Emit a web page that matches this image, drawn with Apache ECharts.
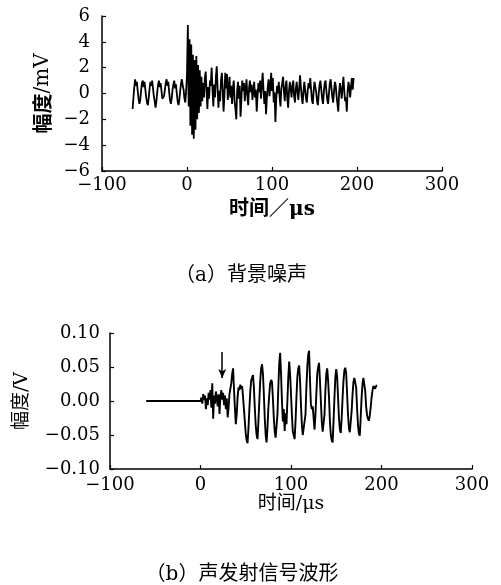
<!DOCTYPE html>
<html>
<head>
<meta charset="utf-8">
<script src="https://cdn.jsdelivr.net/npm/echarts@6/dist/echarts.min.js"></script>
<style>
  html, body { margin: 0; padding: 0; background: #fff; }
  #chart { width: 501px; height: 585px; }
</style>
</head>
<body>
<div id="chart"></div>
<script>
// (a) 背景噪声: amplitude in mV, one sample per microsecond starting at startA
const startA = -64
const stepA = 1
const noiseA = [
  -1.2, -0.3, 0.5, 1.1, 0.6, 0.9, 0.2, -0.4, -0.8, -0.5,
  0.2, 0.8, 1.0, 0.5, 0.9, 0.3, -0.3, -0.7, -0.9, -0.3,
  0.4, 0.9, 0.6, 1.0, 0.4, -0.2, -0.6, -1.1, -0.6, 0.1,
  0.7, 1.0, 0.5, 0.8, 0.2, -0.4, -0.5, -0.2, 0.3, 0.8,
  1.1, 0.6, 0.9, 0.1, -0.5, -0.8, -0.4, 0.3, 0.7, 1.0,
  0.4, 0.7, 0.0, -0.6, -0.9, -0.5, 0.2, 0.8, 1.1, 0.6,
  0.3, -0.4, -0.7, 0.2,
  // burst at t = 0
  1.5, 5.3, -1.0, 4.2, -2.5, 3.8, -3.2, 3.0, -3.5, 2.6,
  -2.8, 2.9, -2.0, 2.2, -1.5, 1.8, -1.0, 1.3, -0.6, 0.8,
  -0.3,
  // t = 21 ..
  1.2, 1.7, 0.2, -1.2, 0.5, -0.4, 1.0, 0.6, 2.0, 0.3,
  -1.0, 0.7, -0.3, 1.3, 2.1, 0.4, -1.1, 0.2, -0.6, 1.0,
  1.6, 0.3, -1.4, -0.2, 1.6, 0.4, 1.5, -0.5, 0.3, 1.3,
  -0.3, 0.6, -0.8, 0.4, 1.0, -0.6, -1.2, -2.0, 0.2, 0.9,
  -0.4, 0.6, -1.8, -0.5, 1.0, 0.2, 0.8, -0.6, 0.3, 1.1,
  -0.2, -0.9, 0.4, 1.0, 0.1, 0.7, -0.5, 0.2, 0.9, -0.3,
  0.3, -1.4, -0.2, 0.8, 0.1, 1.0, -0.4, 0.6, 1.6, 0.3,
  -0.8, 0.2, -1.6, -0.3, 0.5, 1.1, -0.2, 0.5, 1.6, 0.2,
  1.2, -0.7, 0.1, -2.2, -0.4, 0.6, 0.0, 0.9, -0.3, -1.0,
  0.4, 0.8, 1.3, 0.2, -0.6, 0.5, 1.0, -0.4, -1.1, 0.2,
  0.9, 0.4, -0.3, 0.6, 1.0, -0.2, -0.7, 0.3, 0.9, 0.2,
  -0.5, 0.4, 1.4, 0.5, -0.3, -0.8, 0.1, 0.9, 0.3, -0.4,
  -0.7, 0.2, 0.8, 0.4, 1.2, 0.3, -0.5, -0.8, 0.2, 0.9,
  1.0, 0.1, -0.6, -0.9, 0.0, 0.7, 1.0, 0.3, -0.4, -0.8,
  0.1, 0.8, 1.0, 0.2, -0.5, -0.8, 0.0, 0.8, 1.1, 0.4,
  -0.3, -0.7, 0.2, 0.9, 0.6, -0.2, -0.8, -1.4, 0.1, 0.8,
  0.3, -0.4, 0.5, 1.3, 0.2, -0.6, -0.3, -1.4, 0.2, 0.9,
  0.4, -0.3, 0.6, 1.2, 0.3, 1.2
]

// (b) 声发射信号波形: amplitude in V, one sample per microsecond starting at startB
const startB = -60
const stepB = 1
const signalB = [
  0, 0, 0, 0, 0, 0, 0, 0, 0, 0, 0, 0, 0, 0, 0, 0, 0, 0, 0, 0,
  0, 0, 0, 0, 0, 0, 0, 0, 0, 0, 0, 0, 0, 0, 0, 0, 0, 0, 0, 0,
  0, 0, 0, 0, 0, 0, 0, 0, 0, 0, 0, 0, 0, 0, 0, 0, 0, 0, 0, 0,
  // t = 0 ..
  0.000, 0.005, -0.004, 0.010, 0.002, 0.008, -0.012, 0.004, -0.006, 0.012,
  0.002, 0.016, -0.010, 0.026, -0.026, 0.008, -0.004, 0.014, 0.004, -0.008,
  0.010, -0.019, 0.006, 0.016, 0.002, 0.012, -0.006, 0.008, -0.012, 0.004,
  -0.024, -0.010, 0.010, 0.018, 0.026, 0.040, 0.048, 0.018, -0.010, -0.034,
  -0.020, 0.006, 0.020, 0.016, 0.024, 0.018, 0.022, 0.006, -0.012, -0.030,
  -0.048, -0.058, -0.062, -0.040, -0.012, 0.014, 0.030, 0.034, 0.038, 0.020,
  -0.010, -0.035, -0.050, -0.056, -0.030, 0.000, 0.030, 0.048, 0.054, 0.040,
  0.010, -0.025, -0.050, -0.061, -0.040, -0.010, 0.010, 0.026, 0.031, 0.028,
  0.004, -0.025, -0.045, -0.054, -0.052, -0.020, 0.020, 0.055, 0.071, 0.040,
  0.000, -0.030, -0.012, -0.044, -0.018, -0.034, 0.000, 0.035, 0.058, 0.040,
  0.010, -0.020, -0.045, -0.050, -0.056, -0.030, 0.005, 0.035, 0.048, 0.052,
  0.030, -0.005, -0.035, -0.050, -0.048, -0.051, -0.020, 0.020, 0.050, 0.068,
  0.074, 0.030, -0.005, -0.012, -0.008, -0.025, -0.042, -0.020, 0.010, 0.040,
  0.050, 0.056, 0.030, 0.000, -0.030, -0.045, -0.047, -0.020, 0.015, 0.040,
  0.048, 0.030, 0.005, -0.030, -0.050, -0.058, -0.061, -0.030, 0.005, 0.035,
  0.047, 0.035, 0.005, -0.025, -0.042, -0.047, -0.025, 0.005, 0.030, 0.045,
  0.049, 0.040, 0.010, -0.020, -0.040, -0.046, -0.044, -0.015, 0.010, 0.028,
  0.034, 0.036, 0.020, -0.010, -0.035, -0.048, -0.051, -0.025, 0.005, 0.025,
  0.034, 0.036, 0.015, -0.008, -0.020, -0.026, -0.029, -0.022, -0.010, 0.005,
  0.015, 0.022, 0.024, 0.018, 0.022, 0.023
]

// arrow marking the onset in (b): time, top, tip
const arrowB = [24, 0.072, 0.034]

const xTicks = [-100, 300, 100]   // min, max, interval (both panels)
const yTicksA = [-6, 6, 2]
const yTicksB = [-0.1, 0.1, 0.05]

const captionA = '（a）背景噪声'
const captionB = '（b）声发射信号波形'

const toPairs = (start, step, values) => values.map((v, i) => [start + i * step, v])
const minus = s => s.replace('-', '−')

const numFont = 'DejaVu Serif'
const nameFont = '"DejaVu Serif", "Noto Sans CJK SC"'

function axisBase(gridIndex) {
  return {
    gridIndex: gridIndex,
    type: 'value',
    splitLine: { show: false },
    axisLine: { onZero: false, lineStyle: { color: '#000', width: 1.5 } },
    axisTick: { inside: true, length: 4, lineStyle: { color: '#000', width: 1.2 } }
  }
}

const chart = echarts.init(document.getElementById('chart'), null, { renderer: 'canvas' })

chart.setOption({
  animation: false,
  backgroundColor: '#fff',
  grid: [
    { left: 102, top: 16, width: 340, height: 155 },
    { left: 110, top: 333, width: 362, height: 136 }
  ],
  xAxis: [
    Object.assign(axisBase(0), {
      min: xTicks[0], max: xTicks[1], interval: xTicks[2],
      name: '时间／μs', nameLocation: 'middle', nameGap: 29,
      nameTextStyle: { color: '#000', fontFamily: nameFont, fontSize: 20, fontWeight: 'bold' },
      axisLabel: { color: '#000', fontFamily: numFont, fontSize: 18, margin: 5,
        formatter: v => minus(String(v)) }
    }),
    Object.assign(axisBase(1), {
      min: xTicks[0], max: xTicks[1], interval: xTicks[2],
      name: '时间/μs', nameLocation: 'middle', nameGap: 25,
      nameTextStyle: { color: '#000', fontFamily: nameFont, fontSize: 19 },
      axisLabel: { color: '#000', fontFamily: numFont, fontSize: 18, margin: 7,
        formatter: v => minus(String(v)) }
    })
  ],
  yAxis: [
    Object.assign(axisBase(0), {
      min: yTicksA[0], max: yTicksA[1], interval: yTicksA[2],
      name: '{b|幅度}{n|/mV}', nameLocation: 'middle', nameGap: 49, nameRotate: 90,
      nameTextStyle: {
        color: '#000', fontSize: 20,
        rich: {
          b: { fontFamily: 'Noto Sans CJK SC', fontSize: 20, fontWeight: 'bold', color: '#000' },
          n: { fontFamily: numFont, fontSize: 20, color: '#000' }
        }
      },
      axisLabel: { color: '#000', fontFamily: numFont, fontSize: 18, margin: 12,
        formatter: v => minus(String(v)) }
    }),
    Object.assign(axisBase(1), {
      min: yTicksB[0], max: yTicksB[1], interval: yTicksB[2],
      name: '幅度/V', nameLocation: 'middle', nameGap: 78, nameRotate: 90,
      nameTextStyle: { color: '#000', fontFamily: nameFont, fontSize: 19 },
      axisLabel: { color: '#000', fontFamily: numFont, fontSize: 18, margin: 10,
        formatter: v => minus(v.toFixed(2)) }
    })
  ],
  series: [
    {
      type: 'line',
      xAxisIndex: 0,
      yAxisIndex: 0,
      data: toPairs(startA, stepA, noiseA),
      showSymbol: false,
      lineStyle: { color: '#000', width: 1.8 }
    },
    {
      type: 'line',
      xAxisIndex: 1,
      yAxisIndex: 1,
      data: toPairs(startB, stepB, signalB),
      showSymbol: false,
      lineStyle: { color: '#000', width: 1.9 },
      markLine: {
        silent: true,
        symbol: ['none', 'arrow'],
        symbolSize: [6, 9],
        label: { show: false },
        lineStyle: { color: '#000', width: 1.5, type: 'solid' },
        data: [[{ coord: [arrowB[0], arrowB[1]] }, { coord: [arrowB[0], arrowB[2]] }]]
      }
    }
  ],
  graphic: [
    {
      type: 'text', x: 241, y: 276,
      style: { text: captionA, fill: '#000', textAlign: 'center', textVerticalAlign: 'middle',
        font: '20px "DejaVu Serif", "Noto Sans CJK SC"' }
    },
    {
      type: 'text', x: 242, y: 575,
      style: { text: captionB, fill: '#000', textAlign: 'center', textVerticalAlign: 'middle',
        font: '20px "DejaVu Serif", "Noto Sans CJK SC"' }
    }
  ]
})
</script>
</body>
</html>
